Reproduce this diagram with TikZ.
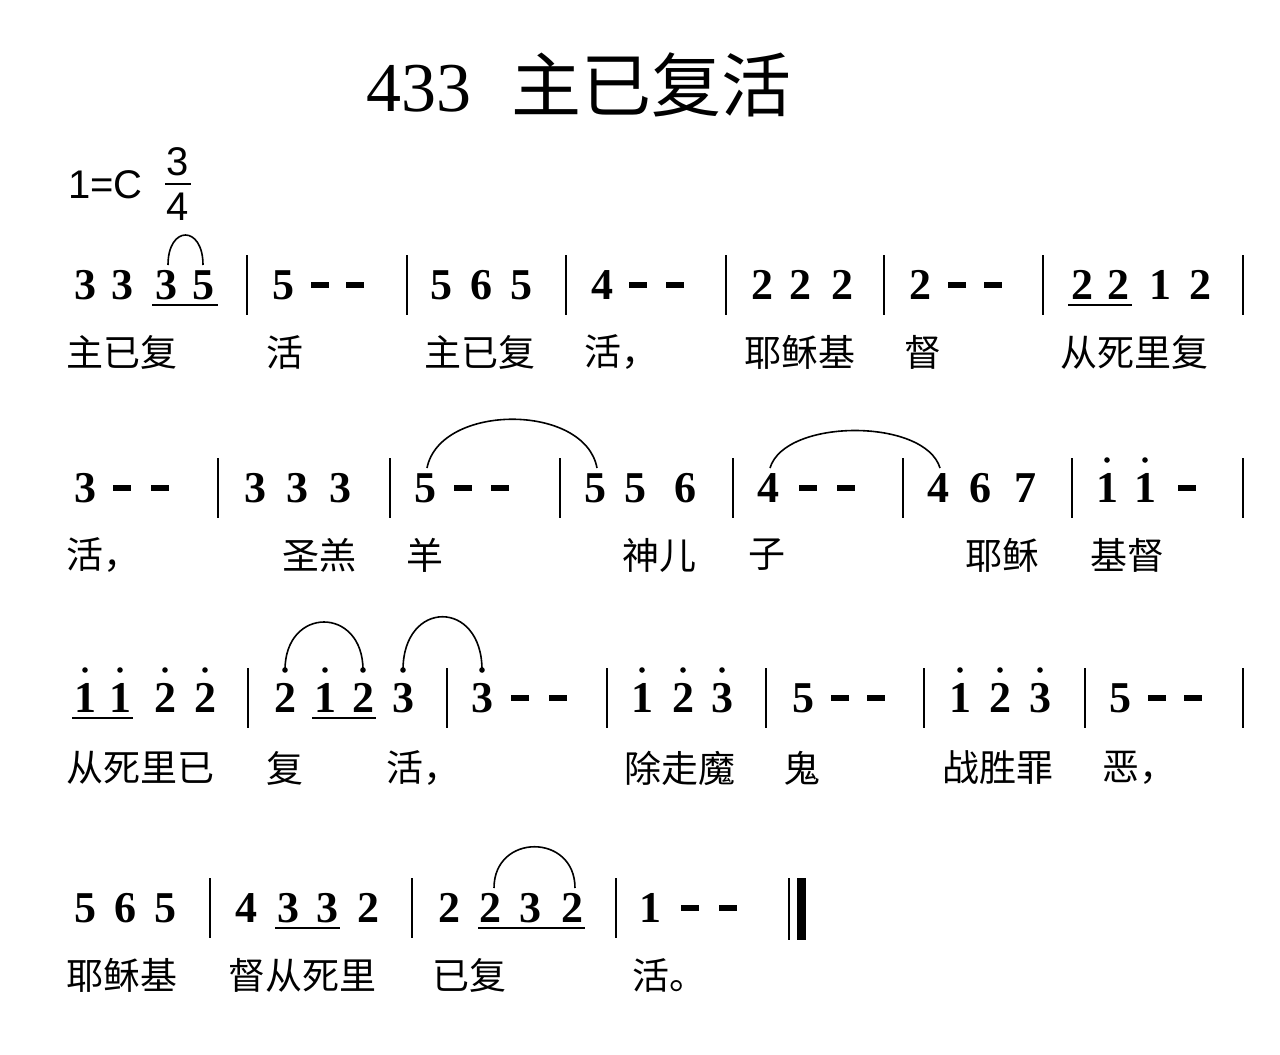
\documentclass[tikz,border=0pt]{standalone}
\usepackage{fontspec}
\setmainfont{Liberation Serif}
\newfontfamily\cjk{Noto Sans CJK SC}
\newfontfamily\lsans{Liberation Sans}
\begin{document}
\begin{tikzpicture}[x=1pt,y=-1pt,
  note/.style={font=\fontsize{44}{44}\selectfont\bfseries,inner sep=0pt},
  lyr/.style={font=\cjk\fontsize{37}{37}\selectfont,anchor=west,inner sep=0pt},
  barl/.style={line width=1.3pt},
  slur/.style={line width=1.6pt}]
\useasboundingbox[fill=white] (0,0) rectangle (1280,1055);
\node[font=\fontsize{70}{70}\selectfont,anchor=west,inner sep=0pt] (title) at (366,85) {433\hspace{40pt}{\cjk\fontsize{70}{70}\selectfont 主已复活}};
\node[font=\lsans\fontsize{40}{40}\selectfont,anchor=west,inner sep=0pt] (key) at (68,185) {1=C};
\node[font=\lsans\fontsize{40}{40}\selectfont,inner sep=0pt] (num) at (178,162) {3};
\node[font=\lsans\fontsize{40}{40}\selectfont,inner sep=0pt] (den) at (178,207) {4};
\draw[line width=1.5pt] (165,184)--(191,184);
% ---- row 1
\def\Y{285}
\foreach \x/\t in {85/3,122/3,166/3,203/5,283/5,441/5,481/6,521/5,602/4,762/2,800/2,842/2,920/2,1082/2,1118/2,1160/1,1200/2}
  \node[note] at (\x,\Y) {\t};
\foreach \x in {320,355,638,675,957,993} \fill (\x-9,\Y-3) rectangle (\x+9,\Y+3);
\foreach \x in {247,407,566,726,884,1043,1243} \draw[barl] (\x,\Y-30)--(\x,\Y+30);
\draw[line width=1.5pt] (152,\Y+20)--(218,\Y+20);
\draw[line width=1.5pt] (1068,\Y+20)--(1132,\Y+20);
\draw[slur] (168,\Y-20) .. controls (168,\Y-60) and (203,\Y-60) .. (203,\Y-20);
\node[lyr] at (66,352) {主已复};
\node[lyr] at (266,352) {活};
\node[lyr] at (424,352) {主已复};
\node[lyr] at (584,352) {活，};
\node[lyr] at (744,352) {耶稣基};
\node[lyr] at (904,352) {督};
\node[lyr] at (1060,352) {从死里复};
% ---- row 2
\def\Y{488}
\foreach \x/\t in {85/3,255/3,297/3,340/3,425/5,595/5,635/5,685/6,768/4,938/4,980/6,1025/7,1107/1,1145/1}
  \node[note] at (\x,\Y) {\t};
\foreach \x in {1107,1145} \fill (\x,\Y-28) circle (2.8);
\foreach \x in {122,160,463,500,808,846,1187} \fill (\x-9,\Y-3) rectangle (\x+9,\Y+3);
\foreach \x in {218,390,560,733,903,1072,1243} \draw[barl] (\x,\Y-30)--(\x,\Y+30);
\draw[slur] (427,\Y-20) .. controls (440,\Y-85) and (585,\Y-85) .. (597,\Y-20);
\draw[slur] (770,\Y-20) .. controls (785,\Y-70) and (925,\Y-70) .. (940,\Y-20);
\node[lyr] at (66,555) {活，};
\node[lyr] at (282,555) {圣羔};
\node[lyr] at (406,555) {羊};
\node[lyr] at (622,555) {神儿};
\node[lyr] at (748,555) {子};
\node[lyr] at (965,555) {耶稣};
\node[lyr] at (1090,555) {基督};
% ---- row 3
\def\Y{698}
\foreach \x/\t in {85/1,120/1,165/2,205/2,285/2,325/1,363/2,403/3,482/3,642/1,683/2,722/3,803/5,960/1,1000/2,1040/3,1120/5}
  \node[note] at (\x,\Y) {\t};
\foreach \x in {85,120,165,205,285,325,363,403,482,642,683,722,960,1000,1040} \fill (\x,\Y-28) circle (2.8);
\foreach \x in {520,558,840,876,1157,1193} \fill (\x-9,\Y-3) rectangle (\x+9,\Y+3);
\foreach \x in {248,447,607,766,924,1085,1243} \draw[barl] (\x,\Y-30)--(\x,\Y+30);
\draw[line width=1.5pt] (72,\Y+20)--(133,\Y+20);
\draw[line width=1.5pt] (312,\Y+20)--(376,\Y+20);
\draw[slur] (285,\Y-28) .. controls (285,\Y-92) and (363,\Y-92) .. (363,\Y-28);
\draw[slur] (403,\Y-28) .. controls (403,\Y-99) and (482,\Y-99) .. (482,\Y-28);
\node[lyr] at (66,768) {从死里已};
\node[lyr] at (266,768) {复};
\node[lyr] at (386,768) {活，};
\node[lyr] at (624,768) {除走魔};
\node[lyr] at (783,768) {鬼};
\node[lyr] at (942,768) {战胜罪};
\node[lyr] at (1102,768) {恶，};
% ---- row 4
\def\Y{908}
\foreach \x/\t in {85/5,125/6,165/5,246/4,288/3,327/3,368/2,449/2,490/2,530/3,572/2,650/1}
  \node[note] at (\x,\Y) {\t};
\foreach \x in {690,728} \fill (\x-9,\Y-3) rectangle (\x+9,\Y+3);
\foreach \x in {210,412,616} \draw[barl] (\x,\Y-30)--(\x,\Y+30);
\draw[barl] (789,\Y-30)--(789,\Y+32);
\fill (797,\Y-30) rectangle (806,\Y+32);
\draw[line width=1.5pt] (275,\Y+20)--(340,\Y+20);
\draw[line width=1.5pt] (478,\Y+20)--(585,\Y+20);
\draw[slur] (494,\Y-20) .. controls (494,\Y-75) and (575,\Y-75) .. (575,\Y-20);
\node[lyr] at (66,975) {耶稣基};
\node[lyr] at (228,975) {督从死里};
\node[lyr] at (432,975) {已复};
\node[lyr] at (632,975) {活。};
\end{tikzpicture}
\end{document}
